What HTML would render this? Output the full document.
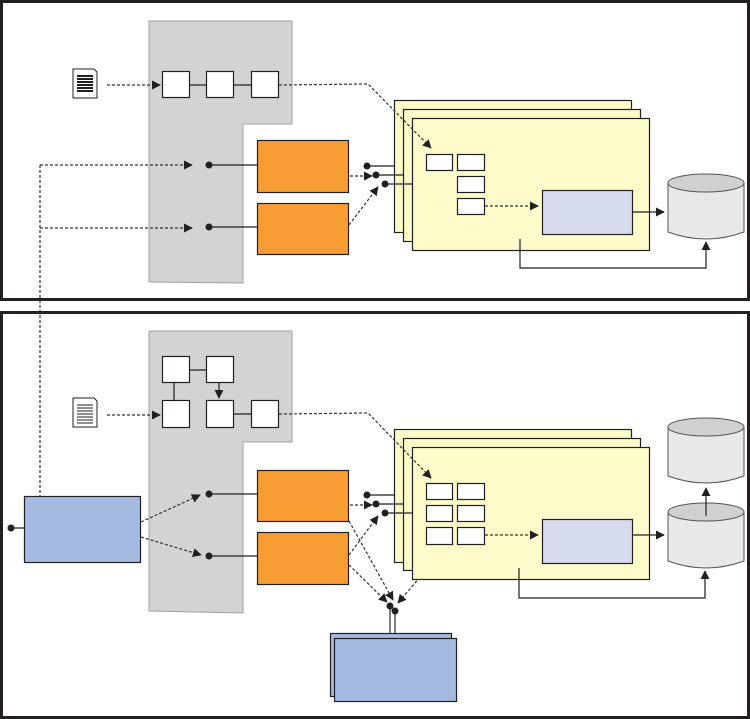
<!DOCTYPE html>
<html><head><meta charset="utf-8"><style>
html,body{margin:0;padding:0;background:#fff;}
svg{display:block;}
</style></head><body>
<svg width="750" height="719" viewBox="0 0 750 719" xmlns="http://www.w3.org/2000/svg">
<defs>
<marker id="ah" viewBox="0 0 10 10" refX="9" refY="5" markerWidth="9" markerHeight="9" markerUnits="userSpaceOnUse" orient="auto"><path d="M0,0 L10,5 L0,10 z" fill="#231f20"/></marker>
</defs>
<g fill="none" stroke="#231f20">
<rect x="1.5" y="1.5" width="747" height="298" stroke-width="3"/>
<rect x="1.5" y="312.5" width="747" height="405" stroke-width="3"/>
</g>

<!-- ===== TOP PANEL ===== -->
<polygon points="149,21 292,21 292,124 243,124 243,283 149,282" fill="#d3d3d3" stroke="#a0a0a0" stroke-width="1"/>
<path d="M73,69 h21 l3,3 v26 h-24 z" fill="#fff" stroke="#231f20" stroke-width="1"/>
<g stroke="#231f20" stroke-width="2"><path d="M77,76h16M77,79h16M77,82h16M77,85h16M77,88h16M77,91h16"/></g>
<g fill="none" stroke="#333" stroke-width="1.2" stroke-dasharray="3,2">
<path d="M107,85 H160" marker-end="url(#ah)"/>
<path d="M40,165 H192" marker-end="url(#ah)"/>
<path d="M40,228 H192" marker-end="url(#ah)"/>
<path d="M40,165 V496"/>
<path d="M350,176 H372" marker-end="url(#ah)"/>
<path d="M349,225 L378,187" marker-end="url(#ah)"/>
</g>
<g stroke="#231f20" stroke-width="1.2" fill="#fff">
<path d="M190,85 H206 M233,85 H251" fill="none"/>
<rect x="162.5" y="71.5" width="27" height="26"/>
<rect x="206.5" y="71.5" width="27" height="26"/>
<rect x="251.5" y="71.5" width="27" height="26"/>
<path d="M209,165 H257 M209,227 H257" fill="none"/>
<rect x="257.5" y="140.5" width="91" height="52" fill="#f79d34"/>
<rect x="257.5" y="203.5" width="91" height="51" fill="#f79d34"/>
<rect x="394.5" y="100.5" width="237" height="132" fill="#fefbcb"/>
<rect x="403.5" y="109.5" width="237" height="132" fill="#fefbcb"/>
<rect x="412.5" y="118.5" width="237" height="132" fill="#fefbcb"/>
<path d="M367,166 H395 M376,175 H403 M385,184 H412" fill="none"/>
<rect x="426.5" y="154.5" width="26" height="16"/>
<rect x="457.5" y="154.5" width="27" height="16"/>
<rect x="457.5" y="176.5" width="27" height="16"/>
<rect x="457.5" y="198.5" width="27" height="16"/>
<rect x="542.5" y="190.5" width="90" height="44" fill="#d5dbec"/>
<path d="M632,212 H664" fill="none" marker-end="url(#ah)"/>
<path d="M520,239 V268 H706 V242" fill="none" marker-end="url(#ah)"/>
</g>
<g fill="none" stroke="#333" stroke-width="1.2" stroke-dasharray="3,2">
<path d="M279,85 L368,84 L431,148" marker-end="url(#ah)"/>
<path d="M485,206 H538" marker-end="url(#ah)"/>
</g>
<g fill="#231f20"><circle cx="209" cy="165" r="3.5"/><circle cx="209" cy="227" r="3.5"/>
<circle cx="367" cy="166" r="3.5"/><circle cx="376" cy="175" r="3.5"/><circle cx="385" cy="184" r="3.5"/></g>
<g stroke="#555" stroke-width="1">
<path d="M668,183 V232 Q706,246 744,232 V183" fill="#e8e8e8"/>
<ellipse cx="706" cy="183" rx="38" ry="9" fill="#d0d0d0"/>
</g>

<!-- ===== BOTTOM PANEL ===== -->
<polygon points="149,331 292,331 292,442 243,442 243,613 149,611" fill="#d3d3d3" stroke="#a0a0a0" stroke-width="1"/>
<path d="M73,398 h21 l3,3 v26 h-24 z" fill="#fff" stroke="#231f20" stroke-width="1"/>
<g stroke="#231f20" stroke-width="1"><path d="M77,405h16M77,408h16M77,411h16M77,414h16M77,417h16M77,420h16M77,423h16"/></g>
<g fill="none" stroke="#333" stroke-width="1.2" stroke-dasharray="3,2">
<path d="M107,415 H160" marker-end="url(#ah)"/>
<path d="M141,522 L200,495" marker-end="url(#ah)"/>
<path d="M141,537 L201,555" marker-end="url(#ah)"/>
<path d="M350,505 H372" marker-end="url(#ah)"/>
<path d="M349,555 L378,516" marker-end="url(#ah)"/>
<path d="M349,521 L393,600" marker-end="url(#ah)"/>
<path d="M349,565 L387,602" marker-end="url(#ah)"/>
<path d="M420,577 L398,603" marker-end="url(#ah)"/>
</g>
<g stroke="#231f20" stroke-width="1.2" fill="#fff">
<path d="M190,370 H206 M174,382 V400 M233,414 H251" fill="none"/>
<path d="M219,382 V398" fill="none" marker-end="url(#ah)"/>
<rect x="162.5" y="356.5" width="27" height="26"/>
<rect x="206.5" y="356.5" width="27" height="26"/>
<rect x="162.5" y="400.5" width="27" height="27"/>
<rect x="206.5" y="400.5" width="27" height="27"/>
<rect x="251.5" y="400.5" width="27" height="27"/>
<rect x="24.5" y="496.5" width="116" height="66" fill="#a3bbe1"/>
<path d="M11,528 H24 M209,494 H257 M209,556 H257" fill="none"/>
<rect x="257.5" y="470.5" width="91" height="51" fill="#f79d34"/>
<rect x="257.5" y="532.5" width="91" height="52" fill="#f79d34"/>
<rect x="394.5" y="429.5" width="237" height="133" fill="#fefbcb"/>
<rect x="403.5" y="438.5" width="237" height="132" fill="#fefbcb"/>
<rect x="412.5" y="447.5" width="237" height="132" fill="#fefbcb"/>
<path d="M367,495 H395 M376,504 H403 M385,513 H412" fill="none"/>
<rect x="426.5" y="483.5" width="26" height="16"/>
<rect x="457.5" y="483.5" width="27" height="16"/>
<rect x="426.5" y="505.5" width="26" height="16"/>
<rect x="457.5" y="505.5" width="27" height="16"/>
<rect x="426.5" y="527.5" width="26" height="17"/>
<rect x="457.5" y="527.5" width="27" height="17"/>
<rect x="542.5" y="519.5" width="90" height="44" fill="#d5dbec"/>
<path d="M632,535 H664" fill="none" marker-end="url(#ah)"/>
<path d="M519,568 V598 H705 V571" fill="none" marker-end="url(#ah)"/>
<path d="M390,606 V633 M395,611 V638" fill="none" stroke="#555" stroke-width="1.5"/>
<rect x="330.5" y="633.5" width="121" height="63" fill="#a3bbe1"/>
<rect x="334.5" y="638.5" width="122" height="63" fill="#a3bbe1"/>
</g>
<g fill="none" stroke="#333" stroke-width="1.2" stroke-dasharray="3,2">
<path d="M279,414 L368,413 L431,478" marker-end="url(#ah)"/>
<path d="M485,535 H538" marker-end="url(#ah)"/>
</g>
<g fill="#231f20"><circle cx="11" cy="528" r="3.5"/><circle cx="209" cy="494" r="3.5"/><circle cx="209" cy="556" r="3.5"/>
<circle cx="367" cy="495" r="3.5"/><circle cx="376" cy="504" r="3.5"/><circle cx="385" cy="513" r="3.5"/>
<circle cx="390" cy="606" r="3.5"/><circle cx="395" cy="611" r="3.5"/></g>
<g stroke="#555" stroke-width="1">
<path d="M668,427 V476 Q706,490 744,476 V427" fill="#e8e8e8"/>
<ellipse cx="706" cy="427" rx="38" ry="9" fill="#d0d0d0"/>
<path d="M668,512 V561 Q706,575 744,561 V512" fill="#e8e8e8"/>
<ellipse cx="706" cy="512" rx="38" ry="9" fill="#d0d0d0"/>
</g>
<path d="M706,516 V488" fill="none" stroke="#231f20" stroke-width="1.2" marker-end="url(#ah)"/>
</svg>
</body></html>
